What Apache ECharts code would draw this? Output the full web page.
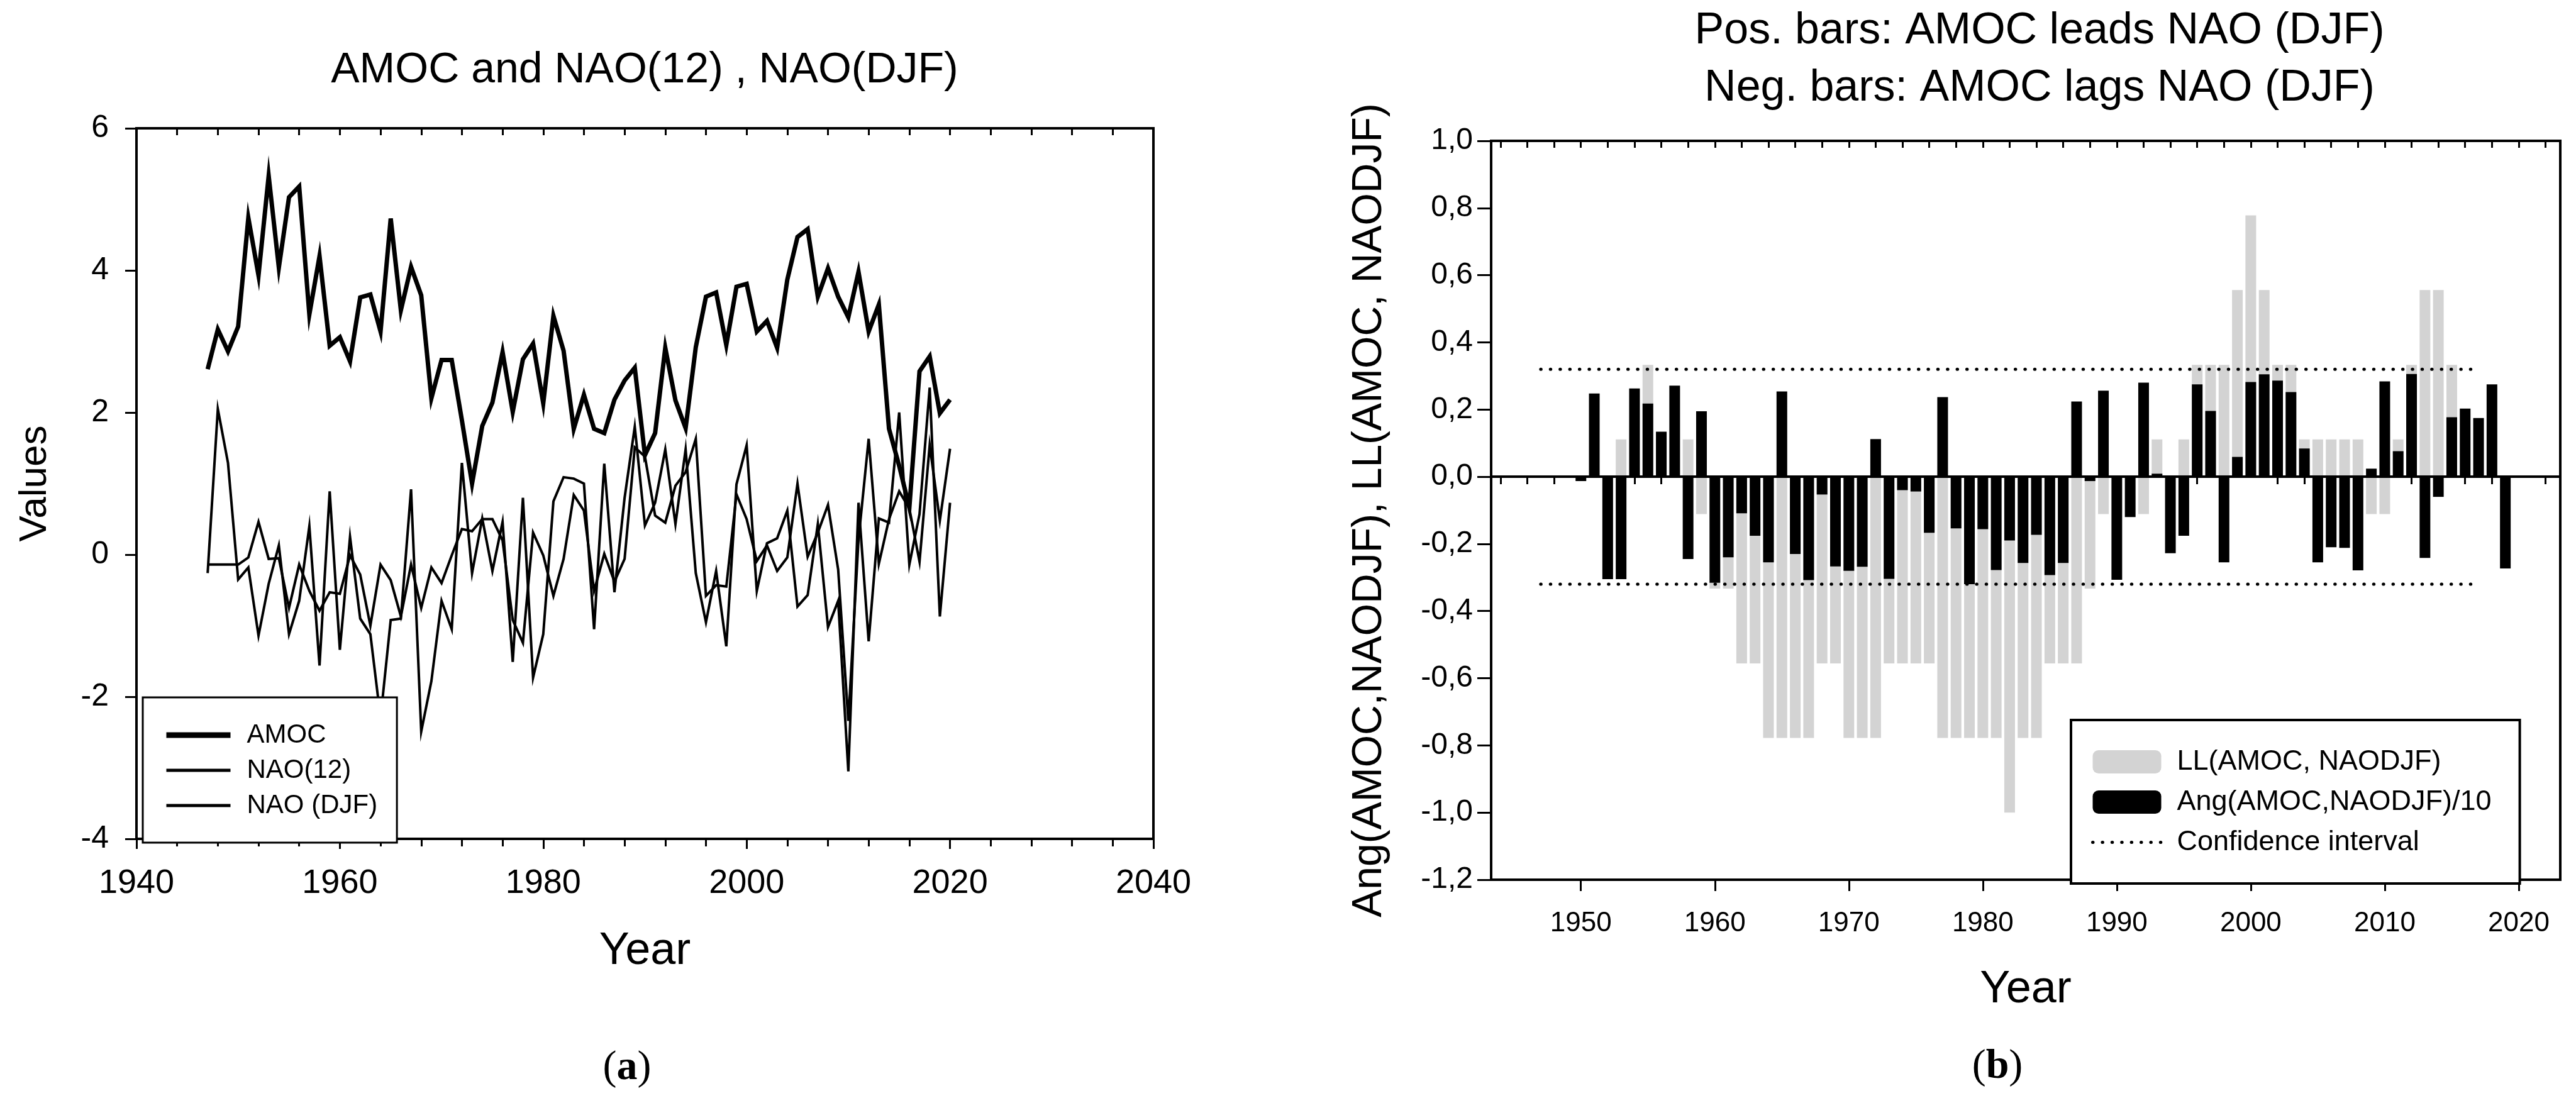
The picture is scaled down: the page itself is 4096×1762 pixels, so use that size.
<!DOCTYPE html>
<html><head><meta charset="utf-8">
<script src="https://cdn.jsdelivr.net/npm/echarts@6/dist/echarts.min.js"></script>
<style>html,body{margin:0;padding:0;background:#fff}#c{width:4096px;height:1762px}</style>
</head><body><div id="c"></div>
<script>
// ---------- Panel (a) data ----------
const years = [1947,1948,1949,
 1950,1951,1952,1953,1954,1955,1956,1957,1958,1959,
 1960,1961,1962,1963,1964,1965,1966,1967,1968,1969,
 1970,1971,1972,1973,1974,1975,1976,1977,1978,1979,
 1980,1981,1982,1983,1984,1985,1986,1987,1988,1989,
 1990,1991,1992,1993,1994,1995,1996,1997,1998,1999,
 2000,2001,2002,2003,2004,2005,2006,2007,2008,2009,
 2010,2011,2012,2013,2014,2015,2016,2017,2018,2019,2020];
const amoc = [2.61,3.17,2.86,
 3.21,4.74,3.93,5.33,4.04,5.03,5.18,3.38,4.20,2.94,
 3.06,2.72,3.62,3.66,3.14,4.73,3.44,4.05,3.65,2.20,
 2.74,2.74,1.89,1.00,1.81,2.14,2.85,2.01,2.75,2.97,
 2.13,3.36,2.87,1.77,2.25,1.77,1.71,2.18,2.45,2.63,
 1.40,1.71,2.91,2.17,1.78,2.92,3.63,3.69,2.95,3.77,
 3.81,3.14,3.29,2.91,3.87,4.47,4.58,3.63,4.03,3.63,
 3.34,3.98,3.14,3.52,1.77,1.25,0.66,2.58,2.79,1.99,2.18];
const nao12 = [-0.14,-0.14,-0.14,
 -0.14,-0.04,0.46,-0.06,-0.05,-0.75,-0.14,-0.51,-0.79,-0.53,
 -0.55,-0.01,-0.28,-1.00,-0.14,-0.36,-0.87,-0.14,-0.75,-0.18,
 -0.40,-0.01,0.36,0.33,0.50,0.50,0.20,-0.92,-1.24,0.31,
 -0.01,-0.58,-0.06,0.84,0.62,-0.51,0.01,-0.38,-0.06,1.51,
 1.38,0.55,0.45,0.97,1.16,1.63,-0.58,-0.43,-0.45,0.85,
 0.50,-0.09,0.13,-0.23,-0.04,1.00,-0.03,0.31,0.70,-0.21,
 -2.34,0.21,1.63,-0.13,0.50,0.89,0.65,-0.10,1.54,0.48,1.49];
const naoDJF = [-0.26,2.05,1.29,
 -0.35,-0.18,-1.14,-0.41,0.13,-1.12,-0.65,0.40,-1.56,0.89,
 -1.34,0.25,-0.90,-1.12,-2.30,-0.92,-0.90,0.92,-2.49,-1.78,
 -0.65,-1.05,1.29,-0.26,0.51,-0.23,0.46,-1.51,0.80,-1.73,
 -1.12,0.75,1.09,1.07,1.00,-1.05,1.28,-0.53,0.80,1.80,
 0.41,0.73,1.48,0.43,1.48,-0.26,-0.95,-0.23,-1.29,0.99,
 1.54,-0.51,0.16,0.23,0.62,-0.73,-0.57,0.43,-1.02,-0.65,
 -3.05,0.73,-1.22,0.51,0.45,2.00,-0.14,0.57,2.35,-0.87,0.73];

// ---------- Panel (b) data ----------
const barYears = [
 1950,1951,1952,1953,1954,1955,1956,1957,1958,1959,
 1960,1961,1962,1963,1964,1965,1966,1967,1968,1969,
 1970,1971,1972,1973,1974,1975,1976,1977,1978,1979,
 1980,1981,1982,1983,1984,1985,1986,1987,1988,1989,
 1990,1991,1992,1993,1994,1995,1996,1997,1998,1999,
 2000,2001,2002,2003,2004,2005,2006,2007,2008,2009,
 2010,2011,2012,2013,2014,2015,2016,2017,2018,2019];
const llValues = [
 0,0,0,0.111,0,0.333,0.111,0,0.111,-0.111,
 -0.333,-0.333,-0.556,-0.556,-0.778,-0.778,-0.778,-0.778,-0.556,-0.556,
 -0.778,-0.778,-0.778,-0.556,-0.556,-0.556,-0.556,-0.778,-0.778,-0.778,
 -0.778,-0.778,-1.0,-0.778,-0.778,-0.556,-0.556,-0.556,-0.333,-0.111,
 0,0,-0.111,0.111,0,0.111,0.333,0.333,0.333,0.556,
 0.778,0.556,0.333,0.333,0.111,0.111,0.111,0.111,0.111,-0.111,
 -0.111,0.111,0.333,0.556,0.556,0.333,0,0,0,0];
const angValues = [
 -0.013,0.248,-0.305,-0.305,0.263,0.218,0.134,0.271,-0.245,0.195,
 -0.316,-0.240,-0.109,-0.176,-0.255,0.254,-0.230,-0.308,-0.053,-0.267,
 -0.280,-0.268,0.112,-0.304,-0.040,-0.044,-0.167,0.237,-0.154,-0.320,
 -0.156,-0.278,-0.190,-0.257,-0.173,-0.293,-0.257,0.224,-0.013,0.256,
 -0.307,-0.120,0.280,0.009,-0.228,-0.176,0.275,0.196,-0.255,0.059,
 0.282,0.305,0.286,0.252,0.084,-0.255,-0.210,-0.212,-0.279,0.024,
 0.284,0.076,0.306,-0.242,-0.060,0.177,0.203,0.175,0.275,-0.273];
const confYears = [1947, 2017];
const confLevel = 0.32;

// tick lists for panel (b)
const bMajorTicks = [1950,1960,1970,1980,1990,2000,2010,2020];
const bMinorTicks = [1944,1946,1948,1952,1954,1956,1958,1962,1964,1966,1968,1972,1974,1976,1978,
 1982,1984,1986,1988,1992,1994,1996,1998,2002,2004,2006,2008,2012,2014,2016,2018,2022];
const bTopTicks = [1944,1946,1948,1950,1952,1954,1956,1958,1960,1962,1964,1966,1968,1970,1972,1974,1976,1978,
 1980,1982,1984,1986,1988,1990,1992,1994,1996,1998,2000,2002,2004,2006,2008,2010,2012,2014,2016,2018,2020,2022];

const FONT = '"Liberation Sans", Arial, sans-serif';
const SERIF = '"Liberation Serif", "Times New Roman", serif';
const pair = (xs, ys) => xs.map((x, i) => [x, ys[i]]);
const black = '#000';
const plain = v => String(Math.round(v));
const dots = [0.5, 14.9];

const chart = echarts.init(document.getElementById('c'), null, {renderer: 'canvas'});
const bMin = 1943.3, bMax = 2023.1;
const hideSym = {opacity: 0};

const option = {
  backgroundColor: '#fff',
  animation: false,
  textStyle: {fontFamily: FONT, color: black},
  grid: [
    {left: 217, top: 204, width: 1617, height: 1130, show: true, borderColor: black, borderWidth: 4, backgroundColor: 'transparent'},
    {left: 2371, top: 224, width: 1700, height: 1175, show: true, borderColor: black, borderWidth: 4, backgroundColor: 'transparent'}
  ],
  xAxis: [
    {gridIndex: 0, type: 'value', position: 'bottom', min: 1940, max: 2040, interval: 20,
     axisLine: {show: true, onZero: false, lineStyle: {color: black, width: 4}},
     axisTick: {show: true, inside: false, length: 16, lineStyle: {color: black, width: 3}},
     minorTick: {show: true, splitNumber: 5, length: 12, lineStyle: {color: black, width: 3}},
     axisLabel: {fontSize: 54, margin: 44, color: black, fontFamily: FONT, formatter: plain},
     splitLine: {show: false}, minorSplitLine: {show: false},
     name: 'Year', nameLocation: 'middle', nameGap: 143,
     nameTextStyle: {fontSize: 72, color: black, fontFamily: FONT}},
    {gridIndex: 0, type: 'value', position: 'top', min: 1940, max: 2040, interval: 4,
     axisLine: {show: true, onZero: false, lineStyle: {color: black, width: 4}},
     axisTick: {show: true, inside: true, length: 11, lineStyle: {color: black, width: 3}},
     axisLabel: {show: false}, splitLine: {show: false}},
    {gridIndex: 1, type: 'value', position: 'bottom', min: bMin, max: bMax,
     axisLine: {show: true, onZero: false, lineStyle: {color: black, width: 4}},
     axisTick: {show: true, inside: false, length: 18, customValues: bMajorTicks, lineStyle: {color: black, width: 3}},
     axisLabel: {show: true, customValues: bMajorTicks, fontSize: 44, margin: 48, color: black, fontFamily: FONT, formatter: plain},
     splitLine: {show: false},
     name: 'Year', nameLocation: 'middle', nameGap: 139,
     nameTextStyle: {fontSize: 72, color: black, fontFamily: FONT}},
    {gridIndex: 1, type: 'value', position: 'bottom', min: bMin, max: bMax,
     axisLine: {show: false},
     axisTick: {show: true, inside: false, length: 12, customValues: bMinorTicks, lineStyle: {color: black, width: 3}},
     axisLabel: {show: false}, splitLine: {show: false}},
    {gridIndex: 1, type: 'value', position: 'top', min: bMin, max: bMax,
     axisLine: {show: true, onZero: false, lineStyle: {color: black, width: 4}},
     axisTick: {show: true, inside: true, length: 11, customValues: bTopTicks, lineStyle: {color: black, width: 3}},
     axisLabel: {show: false}, splitLine: {show: false}}
  ],
  yAxis: [
    {gridIndex: 0, type: 'value', min: -4, max: 6, interval: 2,
     axisLine: {show: true, onZero: false, lineStyle: {color: black, width: 4}},
     axisTick: {show: true, inside: false, length: 18, lineStyle: {color: black, width: 3}},
     axisLabel: {fontSize: 50, margin: 44, color: black, fontFamily: FONT},
     splitLine: {show: false},
     name: 'Values', nameLocation: 'middle', nameGap: 130, nameRotate: 90,
     nameTextStyle: {fontSize: 62, color: black, fontFamily: FONT}},
    {gridIndex: 1, type: 'value', min: -1.2, max: 1.0, interval: 0.2,
     axisLine: {show: true, onZero: false, lineStyle: {color: black, width: 4}},
     axisTick: {show: true, inside: false, length: 22, lineStyle: {color: black, width: 3}},
     axisLabel: {fontSize: 48, margin: 29, color: black, fontFamily: FONT,
       formatter: v => (Math.abs(v) < 1e-9 ? 0 : v).toFixed(1).replace('.', ',')},
     splitLine: {show: false},
     name: 'Ang(AMOC,NAODJF), LL(AMOC, NAODJF)', nameLocation: 'middle', nameGap: 160, nameRotate: 90,
     nameTextStyle: {fontSize: 66, color: black, fontFamily: FONT}}
  ],
  legend: [
    {orient: 'vertical', left: 227, top: 1109,
     data: [
       {name: 'AMOC', itemStyle: hideSym, lineStyle: {width: 9, color: black}},
       {name: 'NAO(12)', itemStyle: hideSym, lineStyle: {width: 5, color: black}},
       {name: 'NAO (DJF)', itemStyle: hideSym, lineStyle: {width: 5, color: black}}],
     itemWidth: 102, itemHeight: 14, itemGap: 14,
     padding: [39, 31, 38, 33],
     borderColor: black, borderWidth: 3, backgroundColor: '#fff',
     selectedMode: false, z: 10,
     textStyle: {fontSize: 42, lineHeight: 40, color: black, fontFamily: FONT, padding: [0, 0, 0, 21]}},
    {orient: 'vertical', left: 3293, top: 1145,
     data: ['LL(AMOC, NAODJF)', 'Ang(AMOC,NAODJF)/10',
       {name: 'Confidence interval', itemStyle: hideSym, lineStyle: {width: 5, color: black, type: dots, cap: 'round'}}],
     itemWidth: 109, itemHeight: 37, itemGap: 19,
     padding: [44, 45, 43, 32],
     borderColor: black, borderWidth: 4, backgroundColor: '#fff',
     selectedMode: false, z: 10,
     textStyle: {fontSize: 45, lineHeight: 37, color: black, fontFamily: FONT, padding: [0, 0, 0, 20]}}
  ],
  series: [
    {name: 'AMOC', type: 'line', xAxisIndex: 0, yAxisIndex: 0, data: pair(years, amoc),
     symbol: 'none', lineStyle: {color: black, width: 7, join: 'miter'}, itemStyle: {color: black}, z: 3},
    {name: 'NAO(12)', type: 'line', xAxisIndex: 0, yAxisIndex: 0, data: pair(years, nao12),
     symbol: 'none', lineStyle: {color: black, width: 4, join: 'miter'}, itemStyle: {color: black}, z: 3},
    {name: 'NAO (DJF)', type: 'line', xAxisIndex: 0, yAxisIndex: 0, data: pair(years, naoDJF),
     symbol: 'none', lineStyle: {color: black, width: 4, join: 'miter'}, itemStyle: {color: black}, z: 3},
    {name: 'LL(AMOC, NAODJF)', type: 'bar', xAxisIndex: 2, yAxisIndex: 1, data: pair(barYears, llValues),
     barWidth: 17, barGap: '-100%', itemStyle: {color: '#d3d3d3'}, z: 2},
    {name: 'Ang(AMOC,NAODJF)/10', type: 'bar', xAxisIndex: 2, yAxisIndex: 1, data: pair(barYears, angValues),
     barWidth: 17, barGap: '-100%', itemStyle: {color: black}, z: 3,
     markLine: {silent: true, symbol: 'none', label: {show: false}, z: 5,
       lineStyle: {color: black, width: 4, type: 'solid'}, data: [{yAxis: 0}]}},
    {name: 'Confidence interval', type: 'line', xAxisIndex: 2, yAxisIndex: 1,
     data: confYears.map(x => [x, confLevel]), symbol: 'none',
     lineStyle: {color: black, width: 5, type: dots, cap: 'round'}, itemStyle: {color: black}, z: 4},
    {name: 'Confidence interval', type: 'line', xAxisIndex: 2, yAxisIndex: 1,
     data: confYears.map(x => [x, -confLevel]), symbol: 'none',
     lineStyle: {color: black, width: 5, type: dots, cap: 'round'}, itemStyle: {color: black}, z: 4}
  ],
  graphic: [
    {type: 'text', x: 1025, y: 112, style: {text: 'AMOC and NAO(12) , NAO(DJF)', font: '68px ' + FONT, fill: black, textAlign: 'center', textVerticalAlign: 'middle'}},
    {type: 'text', x: 3243, y: 50, style: {text: 'Pos. bars: AMOC leads NAO (DJF)', font: '70px ' + FONT, fill: black, textAlign: 'center', textVerticalAlign: 'middle'}},
    {type: 'text', x: 3243, y: 141, style: {text: 'Neg. bars: AMOC lags NAO (DJF)', font: '70px ' + FONT, fill: black, textAlign: 'center', textVerticalAlign: 'middle'}},
    {type: 'text', x: 997, y: 1699, style: {text: '{p|(}{b|a}{p|)}', textAlign: 'center', textVerticalAlign: 'middle',
      rich: {p: {fontFamily: SERIF, fontSize: 66, fill: black}, b: {fontFamily: SERIF, fontSize: 66, fontWeight: 'bold', fill: black}}}},
    {type: 'text', x: 3176, y: 1697, style: {text: '{p|(}{b|b}{p|)}', textAlign: 'center', textVerticalAlign: 'middle',
      rich: {p: {fontFamily: SERIF, fontSize: 66, fill: black}, b: {fontFamily: SERIF, fontSize: 66, fontWeight: 'bold', fill: black}}}}
  ]
};
chart.setOption(option);
</script>
</body></html>
